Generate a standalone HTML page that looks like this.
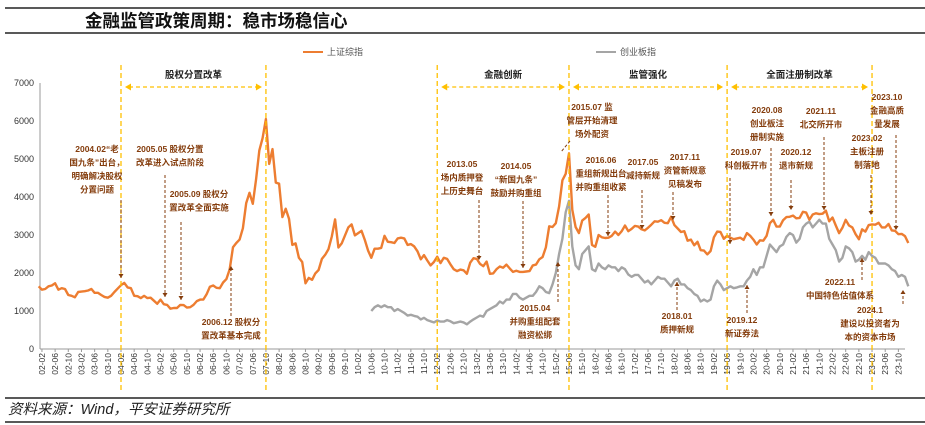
<!DOCTYPE html>
<html><head><meta charset="utf-8"><style>
body{margin:0;background:#fff;}
svg{display:block;font-family:"Liberation Sans","Noto Sans CJK SC",sans-serif;}
.an{font-size:8.5px;font-weight:bold;fill:#843C0C;text-anchor:middle;}
.red{fill:#C00000;}
.hd{font-size:9.5px;font-weight:bold;fill:#222;text-anchor:middle;}
</style></head><body>
<svg id="c" width="925" height="425" viewBox="0 0 925 425">
<line x1="5" y1="8" x2="925" y2="8" stroke="#222" stroke-width="1.5"/>
<text x="85" y="27" font-size="17.5" font-weight="bold" fill="#111" font-family="Liberation Sans, Noto Sans CJK SC, sans-serif">金融监管政策周期：稳市场稳信心</text>
<line x1="5" y1="33" x2="925" y2="33" stroke="#222" stroke-width="1.5"/>
<g>
<line x1="303" y1="52" x2="323" y2="52" stroke="#ED7D31" stroke-width="2"/>
<text x="327" y="55" font-size="9" fill="#555">上证综指</text>
<line x1="596" y1="52" x2="616" y2="52" stroke="#A5A5A5" stroke-width="2"/>
<text x="620" y="55" font-size="9" fill="#555">创业板指</text>
</g>
<g id="axes"></g>
<g id="series"></g>
<g id="notes"></g>
<line x1="5" y1="398" x2="925" y2="398" stroke="#222" stroke-width="1.5"/>
<text x="8" y="414" font-size="14.5" font-style="italic" fill="#222">资料来源：Wind，平安证券研究所</text>
<line x1="5" y1="422" x2="925" y2="422" stroke="#222" stroke-width="1.5"/>
</svg>
<script>
const shStart=[2002,1];
const shValues=[1650,1560,1580,1650,1670,1730,1560,1600,1580,1420,1400,1360,
1500,1510,1520,1540,1580,1480,1480,1420,1370,1350,1400,1500,
1590,1680,1740,1620,1600,1400,1390,1340,1400,1340,1350,1270,
1190,1300,1180,1160,1060,1080,1080,1160,1155,1090,1100,1160,
1260,1300,1300,1440,1640,1670,1610,1600,1750,1840,2100,2680,
2790,2880,3180,3840,4110,3820,4470,5220,5550,6050,4870,5260,
4380,4350,3470,3690,3430,2740,2780,2400,2290,1730,1870,1820,
1990,2080,2370,2480,2630,2960,3410,2670,2780,2990,3200,3280,
2990,3050,3110,2870,2590,2400,2640,2640,2660,2980,2820,2810,
2790,2910,2930,2910,2740,2760,2700,2570,2360,2470,2330,2200,
2290,2430,2260,2400,2370,2230,2100,2050,2090,2070,1980,2270,
2390,2370,2240,2180,2300,1980,1990,2100,2170,2140,2220,2120,
2030,2060,2030,2030,2040,2050,2200,2220,2360,2420,2680,3230,
3210,3310,3750,4440,4610,5150,3660,3210,3050,3380,3450,3540,
2740,2690,3000,2940,2920,2930,2980,3090,3000,3100,3250,3100,
3160,3240,3220,3150,3120,3190,3270,3360,3350,3390,3320,3310,
3480,3260,3170,3080,3100,2850,2880,2730,2820,2600,2590,2490,
2580,2940,3090,3080,2900,2980,2930,2890,2910,2930,2870,3050,
2980,2880,2750,2860,2850,2980,3310,3400,3220,3220,3390,3470,
3480,3510,3440,3450,3610,3590,3400,3540,3570,3550,3560,3640,
3360,3460,3250,3050,3190,3400,3250,3200,3020,2890,3150,3090,
3260,3280,3270,3320,3200,3200,3290,3120,3110,3020,3030,2970,
2790];
const cyStart=[2010,6];
const cyValues=[1000,1100,1150,1100,1150,1100,1100,
1000,1050,1000,950,880,900,870,850,780,820,760,730,
700,750,720,720,760,730,680,700,720,700,650,720,
780,830,880,850,1000,1050,1100,1150,1250,1200,1300,1300,
1450,1450,1350,1300,1350,1400,1400,1500,1650,1600,1500,1470,
1700,2000,2500,2900,3600,3900,2700,2200,2100,2500,2600,2700,
2100,2050,2250,2150,2100,2200,2150,2150,2050,2150,2100,1960,
1900,1950,1950,1850,1750,1800,1700,1800,1900,1850,1850,1750,
1650,1800,1850,1700,1700,1600,1550,1450,1400,1250,1300,1250,
1300,1650,1800,1700,1550,1600,1650,1600,1620,1650,1650,1800,
1900,2100,1950,2150,2150,2450,2750,2650,2550,2700,2750,2950,
3050,3000,2800,2900,3200,3300,3350,3200,3300,3400,3300,3300,
2900,2750,2600,2300,2400,2700,2650,2550,2300,2350,2450,2350,
2550,2450,2400,2250,2250,2250,2200,2100,2050,1900,1950,1900,
1650];
const yTicks=[0,1000,2000,3000,4000,5000,6000,7000];
const periodYears=[[2004,2],[2007,10],[2012,2],[2015,6],[2019,6],[2023,2]];
const periodNames=["股权分置改革","金融创新","监管强化","全面注册制改革"];

const NS="http://www.w3.org/2000/svg";
function X(y,m){return 121+((y-2004)*12+(m-2))*3.294;}
function Y(v){return 349-v*0.038;}
function mk(t,a,p){const e=document.createElementNS(NS,t);for(const k in a)e.setAttribute(k,a[k]);p.appendChild(e);return e;}
const ax=document.getElementById('axes');
mk('line',{x1:40,y1:83,x2:40,y2:349,stroke:'#999'},ax);
mk('line',{x1:40,y1:349,x2:905,y2:349,stroke:'#999'},ax);
yTicks.forEach(v=>{
const t=mk('text',{x:34,y:Y(v)+3,'font-size':9,fill:'#333','text-anchor':'end'},ax);


t.textContent=v;
});
for(let i=0;i<66;i++){
const mo=2+i*4, yr=2002+Math.floor((mo-1)/12), m=((mo-1)%12)+1;
const x=X(yr,m);
mk('line',{x1:x,y1:349,x2:x,y2:352,stroke:'#999'},ax);
const t=mk('text',{x:0,y:0,'font-size':8.5,fill:'#333','text-anchor':'end',transform:`translate(${x+3},353) rotate(-90)`},ax);


t.textContent=String(yr%100).padStart(2,'0')+'-'+String(m).padStart(2,'0');
}
function path(start,vals,color,name){
let d='';vals.forEach((v,i)=>{const mo=start[1]+i;const yr=start[0]+Math.floor((mo-1)/12);const m=((mo-1)%12)+1;d+=(i?'L':'M')+X(yr,m).toFixed(1)+','+Y(v).toFixed(1);});
const p=mk('path',{d:d,fill:'none',stroke:color,'stroke-width':2.4,'stroke-linejoin':'round'},document.getElementById('series'));


}
path(cyStart,cyValues,'#A5A5A5','chinext-line');
path(shStart,shValues,'#ED7D31','sse-composite-line');
const nt=document.getElementById('notes');
const px=periodYears.map(p=>X(p[0],p[1]));
px.forEach(x=>{const l=mk('line',{x1:x,y1:65,x2:x,y2:390,stroke:'#FFC000','stroke-width':1.3,'stroke-dasharray':'5,3'},nt);

});
const segs=[[0,1],[2,3],[3,4],[4,5]];
segs.forEach((s,i)=>{const a=px[s[0]]+4,b=px[s[1]]-4;
const l=mk('line',{x1:a+4,y1:87,x2:b-4,y2:87,stroke:'#FFC000','stroke-width':1.3,'stroke-dasharray':'4,3'},nt);


mk('path',{d:`M${a},87l6,-3.5v7z M${b},87l-6,-3.5v7z`,fill:'#FFC000'},nt);
const t=mk('text',{x:(px[s[0]]+px[s[1]])/2,y:78,class:'hd'},nt);


t.textContent=periodNames[i];});
const notes=[
[97,152,["2004.02“老","国九条”出台，","明确解决股权","分置问题"],121,200,278,0],
[170,152,["2005.05 股权分置","改革进入试点阶段"],165,175,297,0],
[199,197,["2005.09 股权分","置改革全面实施"],181,222,300,0],
[231,325,["2006.12 股权分","置改革基本完成"],231,316,266,0],
[462,167,["2013.05","场内质押登","上历史舞台"],479,200,260,0],
[516,169,["2014.05","“新国九条”","鼓励并购重组"],523,201,268,0],
[592,110,["2015.07 监","管层开始清理","场外配资"],0,0,0,0],
[535,311,["2015.04","并购重组配套","融资松绑"],558,302,262,0],
[601,163,["2016.06","重组新规出台","并购重组收紧"],608,195,236,0],
[643,165,["2017.05","减持新规"],642,190,229,0],
[685,160,["2017.11","资管新规意","见稿发布"],673,192,220,0],
[677,319,["2018.01","质押新规"],677,310,282,0],
[746,155,["2019.07","科创板开市"],730,178,244,0],
[742,323,["2019.12","新证券法"],747,313,285,0],
[767,113,["2020.08","创业板注","册制实施"],771,148,216,0],
[796,155,["2020.12","退市新规"],791,180,210,0],
[821,114,["2021.11","北交所开市"],824,137,210,0],
[867,141,["2023.02","主板注册","制落地"],871,175,215,0],
[887,100,["2023.10","金融高质","量发展"],896,135,230,1],
[840,285,["2022.11","中国特色估值体系"],862,280,258,1],
[870,313,["2024.1","建设以投资者为","本的资本市场"],903,304,290,1]];
notes.forEach(n=>{
const g=mk('g',{},nt);


n[2].forEach((s,i)=>{const t=mk('text',{x:n[0],y:n[1]+i*13.5,class:'an'+(n[7]?' red':'')},g);t.textContent=s;});
const c=n[7]?'#C00000':'#843C0C';
if(n[3]){mk('line',{x1:n[3],y1:n[4],x2:n[3],y2:n[5],stroke:c,'stroke-width':1,'stroke-dasharray':'3,2'},g);
const dir=n[5]>n[4]?-1:1;
mk('path',{d:`M${n[3]},${n[5]}l-2.5,${dir*4}h5z`,fill:c},g);}
});
mk('line',{x1:570,y1:141,x2:561,y2:152,stroke:'#843C0C','stroke-dasharray':'3,2'},nt);
</script>
</body></html>
